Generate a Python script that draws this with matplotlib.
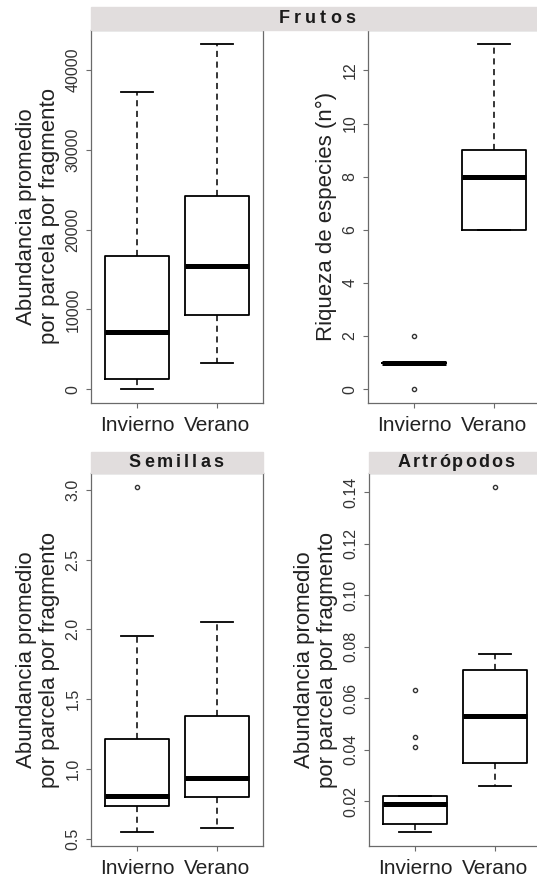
import matplotlib
matplotlib.use("Agg")
import matplotlib.pyplot as plt
from matplotlib.patches import Rectangle

plt.rcParams["font.family"] = ["Liberation Sans", "DejaVu Sans"]

groups = ["Invierno", "Verano"]

# Frutos - abundancia: (whislo, q1, med, q3, whishi, fliers)
fr_abund_lo = [0, 3300]
fr_abund_q1 = [1300, 9300]
fr_abund_med = [7200, 15400]
fr_abund_q3 = [16700, 24200]
fr_abund_hi = [37300, 43300]
fr_abund_out = [[], []]

# Frutos - riqueza
fr_riq_lo = [1, 6]
fr_riq_q1 = [1, 6]
fr_riq_med = [1, 8]
fr_riq_q3 = [1, 9]
fr_riq_hi = [1, 13]
fr_riq_out = [[0, 2], []]

# Semillas
sem_lo = [0.55, 0.58]
sem_q1 = [0.74, 0.80]
sem_med = [0.81, 0.94]
sem_q3 = [1.22, 1.38]
sem_hi = [1.95, 2.05]
sem_out = [[3.02], []]

# Artropodos
art_lo = [0.008, 0.026]
art_q1 = [0.011, 0.035]
art_med = [0.019, 0.053]
art_q3 = [0.022, 0.071]
art_hi = [0.022, 0.077]
art_out = [[0.041, 0.045, 0.063], [0.142]]

ylab_abund = "Abundancia promedio\npor parcela por fragmento"
ylab_riq = "Riqueza de especies (n°)"

FRAME = "#6a6a6a"
TXT = "#222222"
STRIP = "#e1dddd"


def stats(lo, q1, med, q3, hi, out):
    return [dict(whislo=lo[i], q1=q1[i], med=med[i], q3=q3[i], whishi=hi[i],
                 fliers=out[i], label=groups[i]) for i in range(len(groups))]


def panel(ax, st, yticks, ylabel, fmt):
    ax.bxp(st, positions=[1, 2], widths=0.8, showfliers=True,
           boxprops=dict(color="black", lw=1.3),
           medianprops=dict(color="black", lw=3.6, solid_capstyle="butt"),
           whiskerprops=dict(color="black", lw=1.1, ls=(0, (4, 3))),
           capprops=dict(color="black", lw=1.3),
           flierprops=dict(marker="o", markersize=3.0, markerfacecolor="none",
                           markeredgecolor="#333333", markeredgewidth=1.0))
    # R style 4% padding
    vals = []
    for s in st:
        vals += [s["whislo"], s["whishi"]] + list(s["fliers"])
    lo, hi = min(vals), max(vals)
    pad = 0.04 * (hi - lo)
    ax.set_ylim(lo - pad, hi + pad)
    ax.set_xlim(0.42, 2.58)
    ax.set_yticks(yticks)
    ax.set_yticklabels([fmt(v) for v in yticks], rotation=90, va="center",
                       fontsize=11.5, color="#333333")
    ax.set_xticks([1, 2])
    ax.set_xticklabels(groups, fontsize=15, color=TXT)
    ax.tick_params(axis="both", colors=FRAME, length=3.5, width=0.8)
    ax.tick_params(axis="y", pad=4, labelcolor="#333333")
    ax.tick_params(axis="x", pad=6, labelcolor=TXT)
    for sp in ax.spines.values():
        sp.set_color(FRAME)
        sp.set_linewidth(0.9)
    ax.set_ylabel(ylabel, fontsize=16, color=TXT, linespacing=1.15)
    ax.yaxis.set_label_coords(-0.18, 0.5)


def spaced_text(fig, xc, yc, s, size, gap):
    # strip title with letter spacing, drawn letter by letter
    r = fig.canvas.get_renderer()
    ws = []
    for ch in s:
        t = fig.text(0, 0, ch, fontsize=size, fontweight="bold")
        ws.append(t.get_window_extent(r).width)
        t.remove()
    total = sum(ws) + gap * (len(s) - 1)
    x = xc * fig.bbox.width - total / 2
    for ch, w in zip(s, ws):
        fig.text(x / fig.bbox.width, yc, ch, fontsize=size, fontweight="bold",
                 color="#1a1a1a", ha="left", va="center")
        x += w + gap


W, H = 537, 877
fig = plt.figure(figsize=(W / 100, H / 100), dpi=100)


def fx(px):
    return px / W


def fy(px):
    return 1 - px / H


ax1 = fig.add_axes([fx(91), fy(403), fx(172), fy(30) - fy(403)])
ax2 = fig.add_axes([fx(368), fy(403), fx(172), fy(30) - fy(403)])
ax3 = fig.add_axes([fx(91), fy(846), fx(172), fy(473) - fy(846)])
ax4 = fig.add_axes([fx(369), fy(846), fx(172), fy(473) - fy(846)])

panel(ax1, stats(fr_abund_lo, fr_abund_q1, fr_abund_med, fr_abund_q3, fr_abund_hi, fr_abund_out),
      [0, 10000, 20000, 30000, 40000], ylab_abund, lambda v: f"{v:d}")
panel(ax2, stats(fr_riq_lo, fr_riq_q1, fr_riq_med, fr_riq_q3, fr_riq_hi, fr_riq_out),
      [0, 2, 4, 6, 8, 10, 12], ylab_riq, lambda v: f"{v:d}")
panel(ax3, stats(sem_lo, sem_q1, sem_med, sem_q3, sem_hi, sem_out),
      [0.5, 1.0, 1.5, 2.0, 2.5, 3.0], ylab_abund, lambda v: f"{v:.1f}")
panel(ax4, stats(art_lo, art_q1, art_med, art_q3, art_hi, art_out),
      [0.02, 0.04, 0.06, 0.08, 0.10, 0.12, 0.14], ylab_abund, lambda v: f"{v:.2f}")

# strips
fig.patches.append(Rectangle((fx(91), fy(30)), fx(450), fy(7) - fy(30),
                             transform=fig.transFigure, color=STRIP, zorder=0))
fig.patches.append(Rectangle((fx(91), fy(473)), fx(172), fy(452) - fy(473),
                             transform=fig.transFigure, color=STRIP, zorder=0))
fig.patches.append(Rectangle((fx(369), fy(473)), fx(172), fy(452) - fy(473),
                             transform=fig.transFigure, color=STRIP, zorder=0))

spaced_text(fig, fx(317), fy(18.5), "Frutos", 13, 4)
spaced_text(fig, fx(176), fy(462.5), "Semillas", 13, 3)
spaced_text(fig, fx(456), fy(462.5), "Artrópodos", 13, 2)

fig.savefig("out.png", dpi=100, facecolor="white")
